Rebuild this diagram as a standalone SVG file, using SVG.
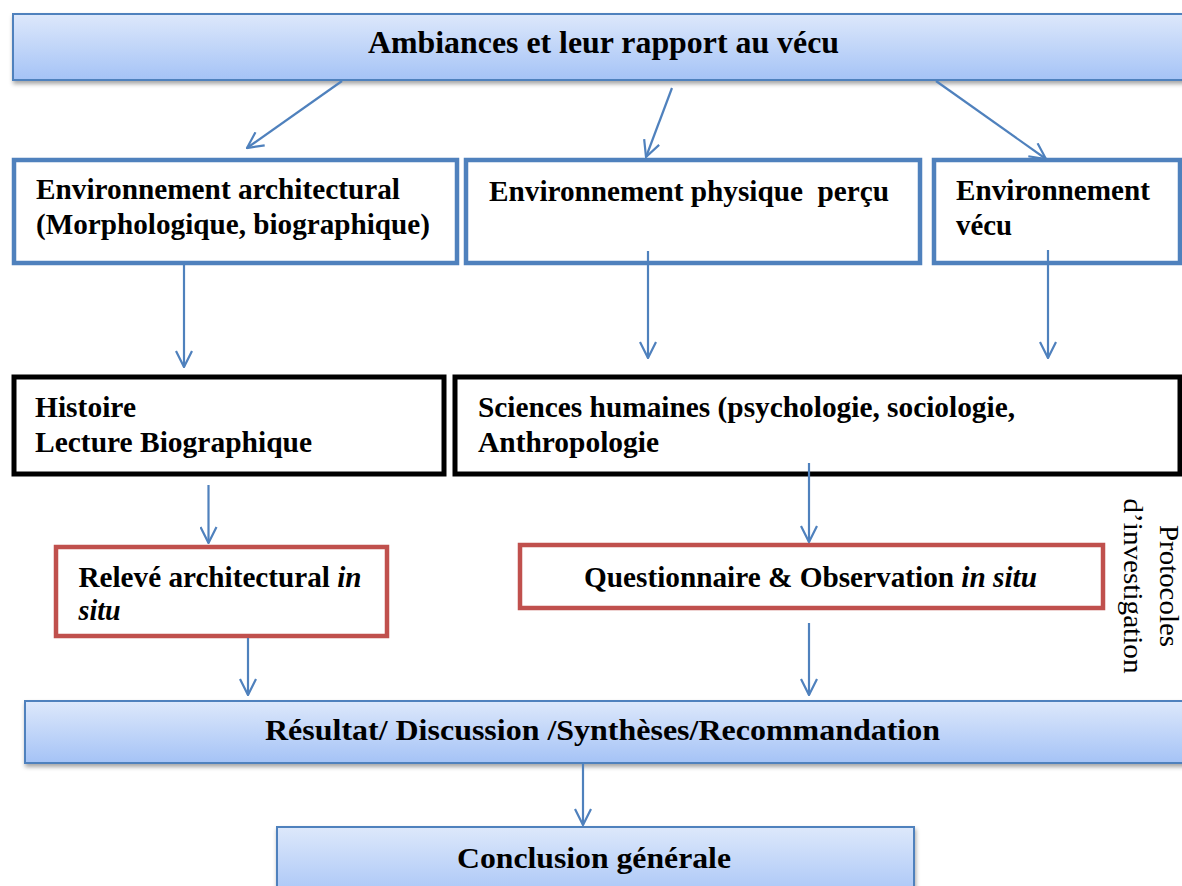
<svg xmlns="http://www.w3.org/2000/svg" width="1182" height="886" viewBox="0 0 1182 886">
<style>
text{font-family:"Liberation Serif","Times New Roman",serif;fill:#000;}
.b{font-weight:bold;font-size:29px;}
.t{font-weight:bold;font-size:31px;}
.r{font-size:27px;}
.i{font-style:italic;}
.banner{fill:url(#g);stroke:#4F81BD;stroke-width:2;filter:url(#sh);}
.blue{fill:#fff;stroke:#4F81BD;stroke-width:4.5;}
.black{fill:#fff;stroke:#000;stroke-width:5;}
.red{fill:#fff;stroke:#C0504D;stroke-width:4.5;}
.c{fill:none;stroke:#4F81BD;stroke-width:2.2;marker-end:url(#ah);}
</style>
<defs>
<linearGradient id="g" x1="0" y1="0" x2="0" y2="1">
<stop offset="0" stop-color="#DDE8FB"/>
<stop offset="1" stop-color="#A5C3F6"/>
</linearGradient>
<filter id="sh" x="-5%" y="-20%" width="110%" height="160%">
<feDropShadow dx="1" dy="3" stdDeviation="2" flood-color="#000" flood-opacity="0.35"/>
</filter>
<marker id="ah" viewBox="0 0 18 18" refX="17" refY="9" markerWidth="18" markerHeight="18" markerUnits="userSpaceOnUse" orient="auto">
<path d="M1,1 L17,9 L1,17" fill="none" stroke="#4F81BD" stroke-width="2.2"/>
</marker>
</defs>

<g id="ambiances">
<rect class="banner" x="13" y="14" width="1180" height="66"/>
<text class="t" x="603.5" y="53" text-anchor="middle" textLength="471" lengthAdjust="spacingAndGlyphs">Ambiances et leur rapport au vécu</text>
</g>

<g id="env-architectural">
<rect class="blue" x="14" y="160" width="443" height="103"/>
<text class="b" x="36" y="199" textLength="364" lengthAdjust="spacingAndGlyphs">Environnement architectural</text>
<text class="b" x="36" y="234" textLength="394" lengthAdjust="spacingAndGlyphs">(Morphologique, biographique)</text>
</g>

<g id="env-physique">
<rect class="blue" x="466" y="160" width="454" height="103"/>
<text class="b" x="489" y="201" textLength="400" lengthAdjust="spacingAndGlyphs" xml:space="preserve">Environnement physique  perçu</text>
</g>

<g id="env-vecu">
<rect class="blue" x="934" y="160" width="246" height="103"/>
<text class="b" x="956" y="200" textLength="194" lengthAdjust="spacingAndGlyphs">Environnement</text>
<text class="b" x="956" y="235" textLength="56" lengthAdjust="spacingAndGlyphs">vécu</text>
</g>

<g id="histoire">
<rect class="black" x="14" y="377" width="430" height="97"/>
<text class="b" x="35" y="417" textLength="101" lengthAdjust="spacingAndGlyphs">Histoire</text>
<text class="b" x="35" y="452" textLength="277" lengthAdjust="spacingAndGlyphs">Lecture Biographique</text>
</g>

<g id="sciences-humaines">
<rect class="black" x="455" y="377" width="725" height="97"/>
<text class="b" x="478" y="417" textLength="537" lengthAdjust="spacingAndGlyphs">Sciences humaines (psychologie, sociologie,</text>
<text class="b" x="478" y="452" textLength="181" lengthAdjust="spacingAndGlyphs">Anthropologie</text>
</g>

<g id="releve">
<rect class="red" x="56" y="547" width="331" height="89"/>
<text class="b" x="78.5" y="587" textLength="283" lengthAdjust="spacingAndGlyphs">Relevé architectural <tspan class="i">in</tspan></text>
<text class="b i" x="78.5" y="620" textLength="42" lengthAdjust="spacingAndGlyphs">situ</text>
</g>

<g id="questionnaire">
<rect class="red" x="520" y="545" width="583" height="63"/>
<text class="b" x="584" y="587" textLength="453" lengthAdjust="spacingAndGlyphs">Questionnaire &amp; Observation <tspan class="i">in situ</tspan></text>
</g>

<g id="protocoles">
<text class="r" transform="translate(1160,586) rotate(90)" text-anchor="middle" textLength="122" lengthAdjust="spacingAndGlyphs">Protocoles</text>
<text class="r" transform="translate(1124,586) rotate(90)" text-anchor="middle" textLength="175" lengthAdjust="spacingAndGlyphs">d’investigation</text>
</g>

<g id="resultat">
<rect class="banner" x="25" y="701" width="1170" height="62"/>
<text class="b" x="602.5" y="740" text-anchor="middle" textLength="675" lengthAdjust="spacingAndGlyphs">Résultat/ Discussion /Synthèses/Recommandation</text>
</g>

<g id="conclusion">
<rect class="banner" x="277" y="827" width="637" height="75"/>
<text class="b" x="594" y="868" text-anchor="middle" textLength="274" lengthAdjust="spacingAndGlyphs">Conclusion générale</text>
</g>

<g id="connectors">
<line class="c" x1="342" y1="81" x2="247" y2="148"/>
<line class="c" x1="672" y1="88" x2="646" y2="157"/>
<line class="c" x1="936" y1="81" x2="1046" y2="159"/>
<line class="c" x1="184" y1="265" x2="184" y2="367"/>
<line class="c" x1="648" y1="251" x2="648" y2="358"/>
<line class="c" x1="1048" y1="250" x2="1048" y2="358"/>
<line class="c" x1="208.5" y1="485" x2="208.5" y2="543"/>
<line class="c" x1="809" y1="463" x2="809" y2="542"/>
<line class="c" x1="248" y1="638" x2="248" y2="695"/>
<line class="c" x1="809" y1="623" x2="809" y2="695"/>
<line class="c" x1="583" y1="764" x2="583" y2="825"/>
</g>
</svg>
